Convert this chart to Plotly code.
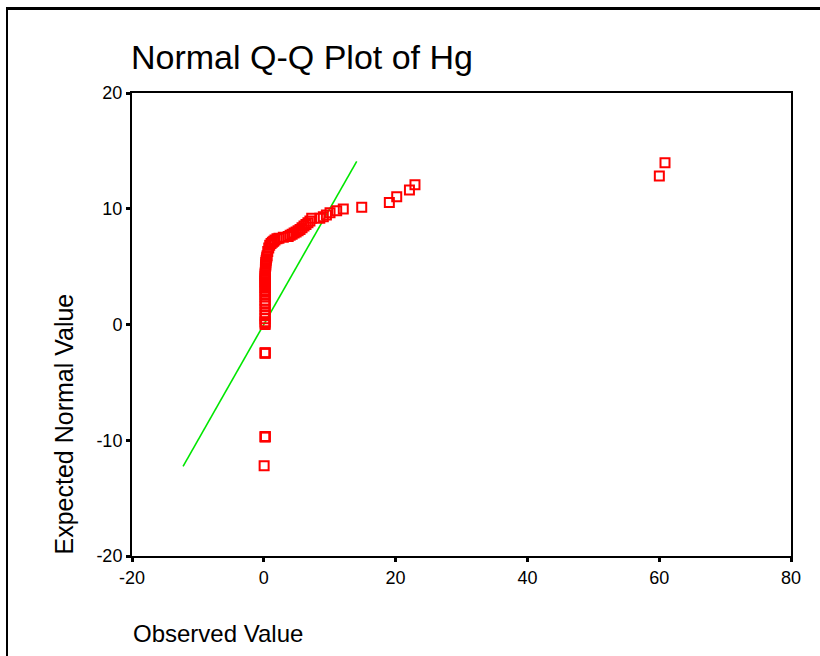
import plotly.graph_objects as go

observed = [
    0.05, 0.2, 0.2, 0.22, 0.2, 0.2, 0.22,
    0.2, 0.2, 0.2, 0.2, 0.2, 0.2, 0.2, 0.2, 0.2, 0.2, 0.2, 0.2, 0.2,
    0.2, 0.2, 0.2, 0.2, 0.2, 0.2, 0.2, 0.2, 0.2, 0.2, 0.25, 0.25, 0.25,
    0.3, 0.3, 0.3, 0.35, 0.4, 0.45, 0.5,
    0.6, 0.75, 0.9, 1.1, 1.3, 1.5, 1.7, 2.0, 2.3, 2.96,
    3.7, 4.0, 4.3, 4.6, 4.9, 5.2, 5.5, 5.8, 6.1, 6.4, 6.7, 7.0, 7.27,
    8.5, 9.03, 9.5, 10.05, 11.06, 12.06, 14.86,
    19.05, 20.17, 22.1, 22.94, 60.02, 60.88,
]
expected = [
    -12.2, -9.72, -9.7, -9.68, -2.48, -2.46, -2.44,
    0.0, 0.1, 0.24, 0.5, 0.76, 1.0, 1.31, 1.6, 1.88, 2.1, 2.4, 2.6, 2.83,
    3.0, 3.2, 3.4, 3.55, 3.7, 3.85, 4.0, 4.15, 4.3, 4.45, 4.6, 4.75, 4.9,
    5.05, 5.2, 5.35, 5.5, 5.65, 5.8, 5.95,
    6.3, 6.6, 6.85, 7.0, 7.1, 7.2, 7.3, 7.4, 7.45, 7.53,
    7.6, 7.7, 7.8, 7.9, 8.0, 8.1, 8.2, 8.35, 8.5, 8.65, 8.8, 8.95, 9.17,
    9.17, 9.31, 9.46, 9.66, 9.83, 9.98, 10.12,
    10.55, 11.04, 11.62, 12.08, 12.83, 13.98,
]

# Reference line (y = x) over the range of expected values
ref_line_x = [-12.25, 14.1]
ref_line_y = [-12.25, 14.1]

x_ticks = [-20, 0, 20, 40, 60, 80]
y_ticks = [-20, -10, 0, 10, 20]

FONT = "Liberation Sans, Arial, sans-serif"

# page is shown with body margin removed (see post_script)
PL, PR, PT, PB = 132, 791, 93, 556
PW, PH = PR - PL, PB - PT

def px(x):
    return (x - PL) / PW

def py(y):
    return (PB - y) / PH

fig = go.Figure()
fig.add_trace(go.Scatter(
    x=ref_line_x, y=ref_line_y, mode="lines",
    line=dict(color="#00e600", width=1.6), hoverinfo="skip", showlegend=False,
))
fig.add_trace(go.Scatter(
    x=observed, y=expected, mode="markers",
    marker=dict(symbol="square-open", size=9, color="#ff0000",
                line=dict(color="#ff0000", width=2)),
    showlegend=False,
))

fig.update_layout(
    width=820, height=656,
    margin=dict(l=PL, r=820 - PR, t=PT, b=656 - PB),
    paper_bgcolor="white", plot_bgcolor="white",
    font=dict(family=FONT, color="black", size=18),
    title=dict(text="Normal Q-Q Plot of Hg", x=131 / 820, xanchor="left",
               y=1 - 57 / 656, yanchor="middle", xref="container", yref="container",
               font=dict(family=FONT, size=34, color="black")),
    xaxis=dict(range=[-20, 80], tickvals=x_ticks, ticktext=[str(v) for v in x_ticks],
               showgrid=False, zeroline=False, showline=True, linecolor="black",
               linewidth=2, mirror=True, ticks="outside", ticklen=4, tickwidth=3,
               tickcolor="black", tickfont=dict(size=18)),
    yaxis=dict(range=[-20, 20], tickvals=y_ticks, ticktext=[str(v) for v in y_ticks],
               showgrid=False, zeroline=False, showline=True, linecolor="black",
               linewidth=2, mirror=True, ticks="outside", ticklen=4, tickwidth=3,
               tickcolor="black", tickfont=dict(size=18)),
    annotations=[
        dict(text="Observed Value", xref="paper", yref="paper", x=px(131), y=py(633),
             xanchor="left", yanchor="middle", showarrow=False,
             font=dict(family=FONT, size=24, color="black")),
        dict(text="Expected Normal Value", xref="paper", yref="paper",
             x=px(63), y=py(557), xanchor="center", yanchor="bottom",
             textangle=-90, showarrow=False,
             font=dict(family=FONT, size=25, color="black")),
    ],
    shapes=[
        dict(type="line", xref="paper", yref="paper",
             x0=px(6), x1=px(840), y0=py(8.5), y1=py(8.5),
             line=dict(color="black", width=3)),
        dict(type="line", xref="paper", yref="paper",
             x0=px(7), x1=px(7), y0=py(8.5), y1=py(680),
             line=dict(color="black", width=2)),
    ],
)

fig.write_html("out.html", config={"displayModeBar": False},
               post_script="document.body.style.margin='0';")
